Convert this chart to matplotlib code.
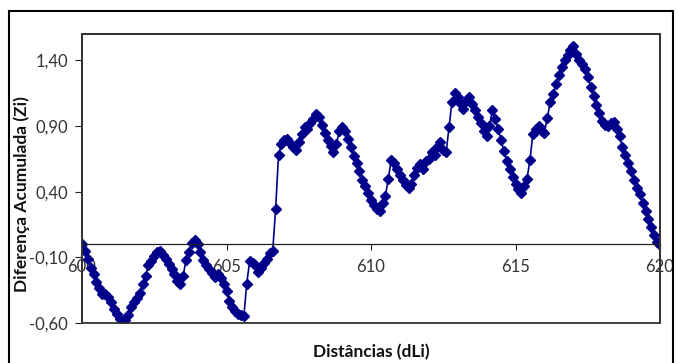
import numpy as np
import matplotlib
matplotlib.use("Agg")
import matplotlib.pyplot as plt
from matplotlib import patches
from matplotlib.ticker import FuncFormatter

plt.rcParams['font.family'] = ['Lato', 'DejaVu Sans']

# Distances (dLi): 600.0 .. 620.0 in steps of 0.1
distances = np.round(np.arange(600.0, 620.0 + 1e-9, 0.1), 1)

# Accumulated difference (Zi)
zi = [
    0.00, -0.05, -0.11, -0.18, -0.23, -0.29, -0.33, -0.38, -0.38, -0.40,
    -0.44, -0.49, -0.53, -0.57, -0.59, -0.58, -0.54, -0.48, -0.44, -0.41,
    -0.37, -0.30, -0.24, -0.16, -0.13, -0.09, -0.06, -0.05, -0.08, -0.11,
    -0.15, -0.19, -0.23, -0.28, -0.30, -0.24, -0.12, -0.06, 0.01, 0.03,
    0.00, -0.06, -0.12, -0.16, -0.19, -0.22, -0.25, -0.23, -0.26, -0.30,
    -0.36, -0.43, -0.48, -0.51, -0.53, -0.54, -0.55, -0.30, -0.13, -0.14,
    -0.16, -0.21, -0.18, -0.14, -0.11, -0.07, -0.05, 0.27, 0.68, 0.76,
    0.79, 0.80, 0.77, 0.74, 0.72, 0.78, 0.84, 0.89, 0.88, 0.92,
    0.95, 0.99, 0.97, 0.91, 0.85, 0.79, 0.75, 0.70, 0.76, 0.86,
    0.89, 0.86, 0.80, 0.74, 0.67, 0.62, 0.56, 0.49, 0.44, 0.39,
    0.34, 0.30, 0.27, 0.25, 0.31, 0.37, 0.50, 0.64, 0.62, 0.57,
    0.53, 0.49, 0.45, 0.43, 0.46, 0.53, 0.58, 0.61, 0.57, 0.63,
    0.65, 0.70, 0.68, 0.74, 0.78, 0.72, 0.70, 0.89, 1.08, 1.15,
    1.12, 1.07, 1.03, 1.09, 1.12, 1.07, 1.02, 0.97, 0.92, 0.86,
    0.82, 0.90, 1.02, 0.95, 0.88, 0.79, 0.71, 0.63, 0.57, 0.51,
    0.46, 0.42, 0.39, 0.44, 0.50, 0.64, 0.84, 0.88, 0.90, 0.86,
    0.85, 0.96, 1.08, 1.14, 1.22, 1.29, 1.35, 1.40, 1.44, 1.48,
    1.51, 1.45, 1.40, 1.37, 1.33, 1.27, 1.20, 1.13, 1.06, 1.00,
    0.94, 0.91, 0.90, 0.92, 0.93, 0.88, 0.82, 0.74, 0.68, 0.62,
    0.56, 0.49, 0.43, 0.38, 0.31, 0.25, 0.19, 0.13, 0.07, 0.02,
    -0.01,
]

y_ticks = [-0.60, -0.10, 0.40, 0.90, 1.40]
x_ticks = [600, 605, 610, 615, 620]

fig = plt.figure(figsize=(6.78, 3.63), dpi=100)
ax = fig.add_axes([82 / 678, 40 / 363, 578 / 678, 289 / 363])

ax.plot(distances, zi, color='#00008B', lw=1.2, marker='D', markersize=5.5,
        markerfacecolor='#00008B', markeredgecolor='#00008B')

ax.set_xlim(600, 620)
ax.set_ylim(-0.6, 1.6)

ax.set_yticks(y_ticks)
ax.yaxis.set_major_formatter(FuncFormatter(lambda v, p: f"{v:.2f}".replace('.', ',')))
ax.set_xticks(x_ticks)
ax.xaxis.set_major_formatter(FuncFormatter(lambda v, p: f"{int(round(v))}"))

for s in ['top', 'right', 'left']:
    ax.spines[s].set_color('#333333')
    ax.spines[s].set_linewidth(1.3)
ax.spines['bottom'].set_position(('data', 0))
ax.spines['bottom'].set_color('#222222')
ax.spines['bottom'].set_linewidth(0.9)
# bottom edge of plot box
ax.add_patch(patches.Rectangle((0, 0), 1, 1, transform=ax.transAxes, fill=False,
                               edgecolor='#333333', lw=1.3, clip_on=False, zorder=5))

ax.tick_params(axis='y', direction='out', length=5, width=0.8, labelsize=12, pad=5,
               colors='#222222')
ax.tick_params(axis='x', direction='out', length=4, width=0.8, labelsize=12, pad=7,
               colors='#222222')
for lbl in ax.get_xticklabels() + ax.get_yticklabels():
    lbl.set_color('#333333')

fig.text(22 / 678, 1 - 194 / 363, 'Diferença Acumulada (Zi)', rotation=90,
         ha='center', va='center', fontsize=12.5, fontweight='bold', color='#111111')
fig.text(371 / 678, 1 - 352 / 363, 'Distâncias (dLi)', ha='center', va='center',
         fontsize=12.5, fontweight='bold', color='#111111')

# outer chart frame
fig.add_artist(patches.Rectangle((9 / 678, -0.1), 664 / 678, 1.1 - 11 / 363,
                                 transform=fig.transFigure, fill=False,
                                 edgecolor='black', lw=1.5))

fig.savefig('out.png', dpi=100)
